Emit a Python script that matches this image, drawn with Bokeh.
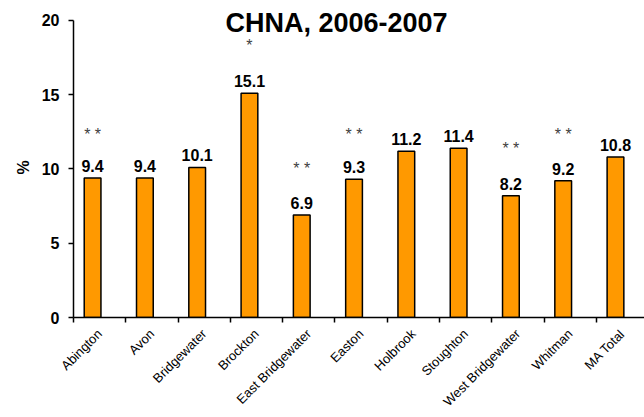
import math
from bokeh.plotting import figure
from bokeh.models import ColumnDataSource, Range1d, FixedTicker, Label, Title
from bokeh.core.properties import value
from bokeh.embed import file_html
from bokeh.resources import INLINE

# Community health needs assessment rates by town
towns = ["Abington", "Avon", "Bridgewater", "Brockton", "East Bridgewater",
         "Easton", "Holbrook", "Stoughton", "West Bridgewater", "Whitman",
         "MA Total"]
rates = [9.4, 9.4, 10.1, 15.1, 6.9, 9.3, 11.2, 11.4, 8.2, 9.2, 10.8]
# significance markers and the height they sit at
star_marks = ["* *", "", "", "*", "* *", "* *", "", "", "* *", "* *", ""]
star_y = [12.5, 0, 0, 18.5, 10.2, 12.5, 0, 0, 11.6, 12.5, 0]
y_ticks = [0, 5, 10, 15, 20]

FONT = "Liberation Sans"
BAR_POS = 0.365   # bar centre within each category slot
BAR_W = 0.32
Y_MAX = 20
FRAME_H = 318     # frame runs from the top of the canvas down to the x axis
AXIS_H = 298      # pixel height of the 0..20 value axis

n = len(towns)
xs = [i + BAR_POS for i in range(n)]
src = ColumnDataSource(dict(x=xs, top=rates, lbl=[f"{r:.1f}" for r in rates]))
sx = [xs[i] for i in range(n) if star_marks[i]]
sy = [star_y[i] for i in range(n) if star_marks[i]]
st = [m for m in star_marks if m]
star_src = ColumnDataSource(dict(x=sx, y=sy, t=st))

p = figure(width=644, height=417, output_backend="svg", toolbar_location=None,
           x_range=Range1d(0, 10.92),
           y_range=Range1d(0, Y_MAX * FRAME_H / AXIS_H),
           min_border_left=73, min_border_right=0, min_border_top=0,
           min_border_bottom=99)
p.outline_line_color = None
p.xgrid.visible = False
p.ygrid.visible = False
p.background_fill_color = "white"
p.border_fill_color = "white"

p.vbar(x="x", top="top", width=BAR_W, bottom=0, source=src,
       fill_color="#FF9900", line_color="black", line_width=1.5)

p.text(x="x", y="top", text="lbl", source=src, text_align="center",
       text_baseline="alphabetic", y_offset=-12,
       text_font=value(FONT), text_font_style="bold", text_font_size="16px",
       text_color="black")

p.text(x="x", y="y", text="t", source=star_src, text_align="center",
       text_baseline="alphabetic", y_offset=3,
       text_font=value(FONT), text_font_size="16px", text_color="#404040")

# x axis: labels at slot centres, tick marks on slot boundaries
xax = p.xaxis[0]
xax.ticker = FixedTicker(ticks=[i + 0.5 for i in range(n)],
                         minor_ticks=list(range(n)))
xax.major_label_overrides = {i + 0.5: t for i, t in enumerate(towns)}
xax.major_label_orientation = math.pi / 4
xax.major_tick_out = 0
xax.major_tick_in = 0
xax.minor_tick_out = 5
xax.minor_tick_in = 0
xax.minor_tick_line_color = "black"
xax.minor_tick_line_width = 1.5
xax.axis_line_color = "black"
xax.axis_line_width = 1.5
xax.major_label_text_font = FONT
xax.major_label_text_font_size = "13px"
xax.major_label_text_color = "black"
xax.major_label_standoff = 9

yax = p.yaxis[0]
yax.ticker = FixedTicker(ticks=y_ticks, minor_ticks=[])
yax.bounds = (0, Y_MAX)
yax.major_tick_out = 5
yax.major_tick_in = 0
yax.major_tick_line_color = "black"
yax.major_tick_line_width = 1.5
yax.axis_line_color = "black"
yax.axis_line_width = 1.5
yax.major_label_text_font = FONT
yax.major_label_text_font_size = "16px"
yax.major_label_text_font_style = "bold"
yax.major_label_text_color = "black"
yax.major_label_standoff = 9

# value-axis caption, placed near the middle of the 0..20 span
p.add_layout(Title(text="%", align="left", offset=143, standoff=13,
                   text_font=FONT, text_font_size="16px",
                   text_font_style="bold", text_color="black"), "left")

p.add_layout(Label(x=263, y=295, x_units="screen", y_units="screen",
                   text="CHNA, 2006-2007", text_align="center",
                   text_baseline="alphabetic", text_font=FONT,
                   text_font_size="27px", text_font_style="bold",
                   text_color="black"))

open("out.html", "w").write(file_html(p, INLINE))
